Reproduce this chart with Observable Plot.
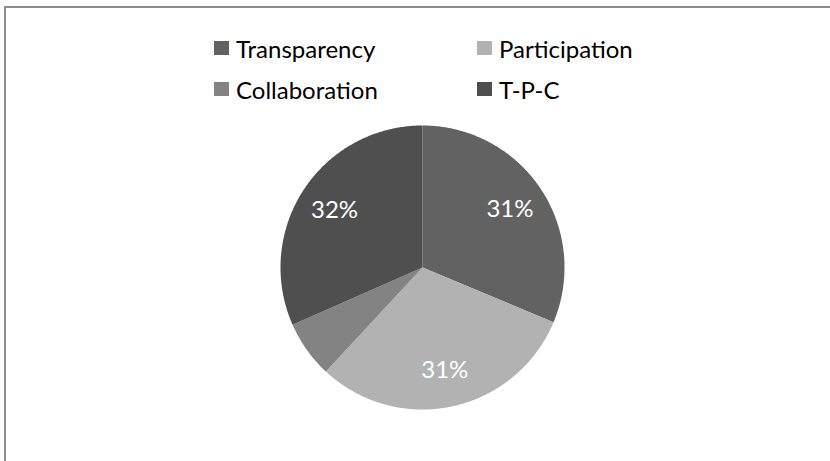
<!DOCTYPE html>
<html>
<head>
<meta charset="utf-8">
<script src="https://cdn.jsdelivr.net/npm/d3@7"></script>
<script src="https://cdn.jsdelivr.net/npm/@observablehq/plot@0.6"></script>
<style>
  html, body { margin: 0; padding: 0; background: #fff; }
  #wrap { position: relative; width: 830px; height: 461px; overflow: hidden; font-family: Lato, "Open Sans", sans-serif; }
  #border { position: absolute; left: 4px; top: 6px; width: 900px; height: 600px; border-top: 2px solid #8c8c8c; border-left: 2px solid #8c8c8c; box-sizing: border-box; }
  #legend { position: absolute; left: 0; top: 0; width: 830px; height: 120px; }
  .item { position: absolute; display: flex; align-items: center; font-size: 24px; color: #000; white-space: nowrap; }
  .sw { width: 15px; height: 14px; margin-right: 7px; }
  #chart { position: absolute; left: 0; top: 0; }
</style>
</head>
<body>
<div id="wrap">
  <div id="border"></div>
  <div id="chart"></div>
  <div id="legend"></div>
</div>
<script>
const categories = ["Transparency", "Participation", "Collaboration", "T-P-C"];
const values = [31.3, 30.6, 6.5, 31.6];
const sliceLabels = ["31%", "31%", "", "32%"];
const colors = ["#626262", "#b2b2b2", "#838383", "#4f4f4f"];

const data = categories.map((name, i) => ({name, value: values[i], label: sliceLabels[i]}));

const arcs = d3.pie().sort(null).value(d => d.value).startAngle(0).endAngle(2 * Math.PI)(data);

// Build slice polygons in unit-circle data space (clockwise from top)
const polys = [];
arcs.forEach(a => {
  const n = Math.max(2, Math.ceil((a.endAngle - a.startAngle) / 0.01));
  polys.push({name: a.data.name, x: 0, y: 0});
  for (let k = 0; k <= n; k++) {
    const t = a.startAngle + (a.endAngle - a.startAngle) * k / n;
    polys.push({name: a.data.name, x: Math.sin(t), y: Math.cos(t)});
  }
});

const labelR = 0.74;
const labelPts = arcs.filter(a => a.data.label).map(a => {
  const m = (a.startAngle + a.endAngle) / 2;
  return {label: a.data.label, x: labelR * Math.sin(m), y: labelR * Math.cos(m)};
});

const cx = 422, cy = 267, R = 142;

const chart = Plot.plot({
  width: 830,
  height: 461,
  margin: 0,
  x: {domain: [-1, 1], range: [cx - R, cx + R], axis: null},
  y: {domain: [-1, 1], range: [cy + R, cy - R], axis: null},
  color: {domain: categories, range: colors},
  style: {background: "transparent", fontFamily: "Lato, 'Open Sans', sans-serif"},
  marks: [
    Plot.line(polys, {x: "x", y: "y", z: "name", fill: "name", stroke: "none", curve: "linear-closed"}),
    Plot.text(labelPts, {x: "x", y: "y", text: "label", fill: "white", fontSize: 24})
  ]
});
document.getElementById("chart").appendChild(chart);

// Legend
const legendPos = [[214, 48], [477, 48], [214, 89], [477, 89]];
const legend = document.getElementById("legend");
categories.forEach((c, i) => {
  const it = document.createElement("div");
  it.className = "item";
  it.style.left = legendPos[i][0] + "px";
  it.style.top = (legendPos[i][1] - 15) + "px";
  it.style.height = "30px";
  const sw = document.createElement("div");
  sw.className = "sw";
  sw.style.background = colors[i];
  const tx = document.createElement("span");
  tx.textContent = c;
  it.appendChild(sw);
  it.appendChild(tx);
  legend.appendChild(it);
});
</script>
</body>
</html>
